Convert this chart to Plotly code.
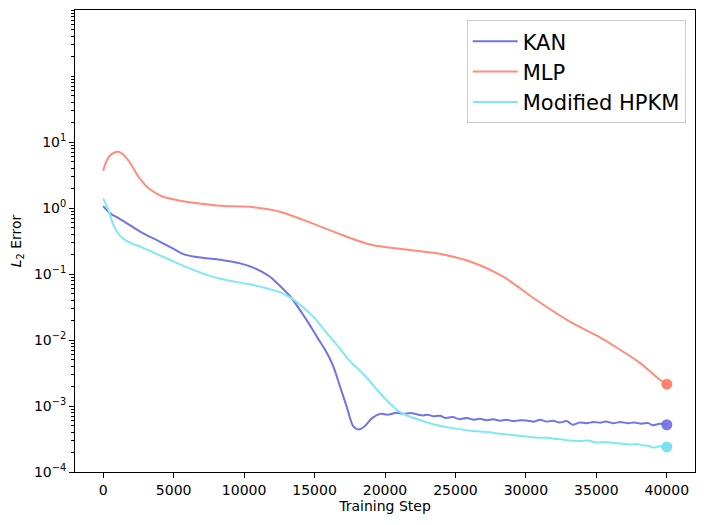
import plotly.graph_objects as go

kan_steps = [0, 500, 1000, 1500, 2620, 4000, 5000, 5700, 6500, 7350, 8300, 9720, 10660, 11840,
             12080, 13260, 14440, 15270, 15800, 16330, 16800, 17280, 17750, 18100, 18500, 19060, 19650, 20200,
             20830, 21300, 21800, 22250, 22700, 23000, 23400, 23900, 24300, 24800, 25300, 25800,
             26300, 26740, 27200, 27700, 28150, 28600, 29100, 29600, 30100, 30600, 31000, 31470,
             31900, 32400, 32900, 33330, 33800, 34300, 34800, 35300, 35700, 36170, 36700, 37200,
             37700, 38200, 38700, 39000, 39500, 40000]
kan_err = [1.07, 0.83, 0.72, 0.62, 0.44, 0.31, 0.24, 0.200, 0.182, 0.173, 0.165, 0.145, 0.125, 0.091,
           0.082, 0.046, 0.020, 0.0103, 0.0068, 0.0040, 0.0020, 0.00098, 0.00049, 0.00044, 0.00048, 0.00065, 0.00076, 0.00074,
           0.00079, 0.00076, 0.00078, 0.00075, 0.00072, 0.00074, 0.00070, 0.00071, 0.00066, 0.00068, 0.00063, 0.00066,
           0.00062, 0.00064, 0.00061, 0.00063, 0.00060, 0.00062, 0.00059, 0.00061, 0.00060, 0.00058, 0.00062, 0.00058,
           0.00060, 0.00056, 0.00059, 0.00052, 0.00056, 0.00055, 0.00057, 0.00056, 0.00058, 0.00055, 0.00057, 0.00055,
           0.00056, 0.00054, 0.00055, 0.00051, 0.00054, 0.00052]

mlp_steps = [0, 260, 620, 1085, 1400, 1915, 2500, 3100, 3700, 4255, 5460, 7000, 8300, 10660, 12550, 14200,
             16570, 18940, 21300, 23670, 26030, 28390, 30760, 33120, 35250, 36190, 38090, 39500, 40000]
mlp_err = [3.67, 5.3, 6.6, 7.13, 6.5, 4.8, 3.0, 2.1, 1.70, 1.48, 1.29, 1.16, 1.08, 1.03, 0.88, 0.66,
           0.42, 0.28, 0.237, 0.206, 0.155, 0.091, 0.040, 0.019, 0.011, 0.0083, 0.0045, 0.0025, 0.00214]

hpkm_steps = [0, 375, 730, 1100, 1440, 2000, 2620, 4990, 6000, 7350, 8300, 9720, 10660, 12080, 12550, 13500,
              14920, 15860, 16800, 17500, 18500, 19880, 21060, 22200, 23430, 24600, 25800, 26740,
              27400, 28150, 28800, 29200, 29800, 30280, 31000, 31600, 32000, 32600, 33000, 33830,
              34400, 35000, 35600, 36200, 36800, 37380, 37900, 38200, 38700, 39000, 39500, 40000]
hpkm_err = [1.40, 0.93, 0.55, 0.40, 0.34, 0.29, 0.26, 0.155, 0.125, 0.097, 0.085, 0.074, 0.068, 0.057, 0.053, 0.041,
            0.0224, 0.0128, 0.0074, 0.0048, 0.0030, 0.00138, 0.00081, 0.00064, 0.00053, 0.00047, 0.00043, 0.00041,
            0.00040, 0.00038, 0.00037, 0.00036, 0.00035, 0.00034, 0.00033, 0.00033, 0.00032, 0.00031, 0.00030, 0.000295,
            0.000300, 0.00028, 0.000285, 0.000275, 0.00027, 0.00026, 0.000265, 0.000255, 0.00025, 0.000235, 0.000245, 0.00024]

series = [
    ("KAN", kan_steps, kan_err, "#7373e6", "#6b6be8"),
    ("MLP", mlp_steps, mlp_err, "#ff8c7c", "#ff7564"),
    ("Modified HPKM", hpkm_steps, hpkm_err, "#80e8f3", "#6fdfee"),
]

fig = go.Figure()
for name, xs, ys, col, mcol in series:
    fig.add_trace(go.Scatter(x=xs, y=ys, mode="lines", name=name,
                             line=dict(color=col, width=2, shape="spline", smoothing=0.9)))
for name, xs, ys, col, mcol in series:
    fig.add_trace(go.Scatter(x=[xs[-1]], y=[ys[-1]], mode="markers", showlegend=False,
                             marker=dict(color=mcol, size=11, opacity=0.9,
                                         line=dict(width=0))))

major = [1e-4, 1e-3, 1e-2, 1e-1, 1e0, 1e1]
major_text = ["10<sup>\u22124</sup>", "10<sup>\u22123</sup>", "10<sup>\u22122</sup>",
              "10<sup>\u22121</sup>", "10<sup>0</sup>", "10<sup>1</sup>"]
minor = [m * 10.0 ** k for k in range(-4, 3) for m in range(2, 10)] + [1e2, 1e3]

font = "DejaVu Sans, sans-serif"
fig.update_layout(
    width=705, height=525,
    margin=dict(l=67, r=18, t=2, b=61),
    plot_bgcolor="white", paper_bgcolor="white",
    font=dict(family=font, size=14, color="black"),
    showlegend=True,
    legend=dict(x=0.985, y=0.978, xanchor="right", yanchor="top", itemwidth=45,
                bordercolor="#cccccc", borderwidth=1, bgcolor="rgba(255,255,255,0.8)",
                font=dict(size=21, family=font)),
    xaxis=dict(range=[-2000, 42000], tickvals=[0, 5000, 10000, 15000, 20000, 25000, 30000, 35000, 40000],
               ticktext=["0", "5000", "10000", "15000", "20000", "25000", "30000", "35000", "40000"],
               ticks="outside", ticklen=5, tickcolor="black", showline=True, linecolor="black",
               linewidth=1, mirror=True, showgrid=False, zeroline=False,
               tickfont=dict(size=14),
               title=dict(text="Training Step", font=dict(size=14), standoff=4)),
    yaxis=dict(type="log", range=[-4, 3], tickvals=major, ticktext=major_text,
               ticks="outside", ticklen=5, tickcolor="black", showline=True, linecolor="black",
               linewidth=1, mirror=True, showgrid=False, zeroline=False,
               tickfont=dict(size=14),
               minor=dict(tickvals=minor, ticks="outside", ticklen=3, tickcolor="black", showgrid=False),
               title=dict(text="<i>L</i><sub>2</sub> Error", font=dict(size=14), standoff=12)),
)

fig.write_html("out.html")
